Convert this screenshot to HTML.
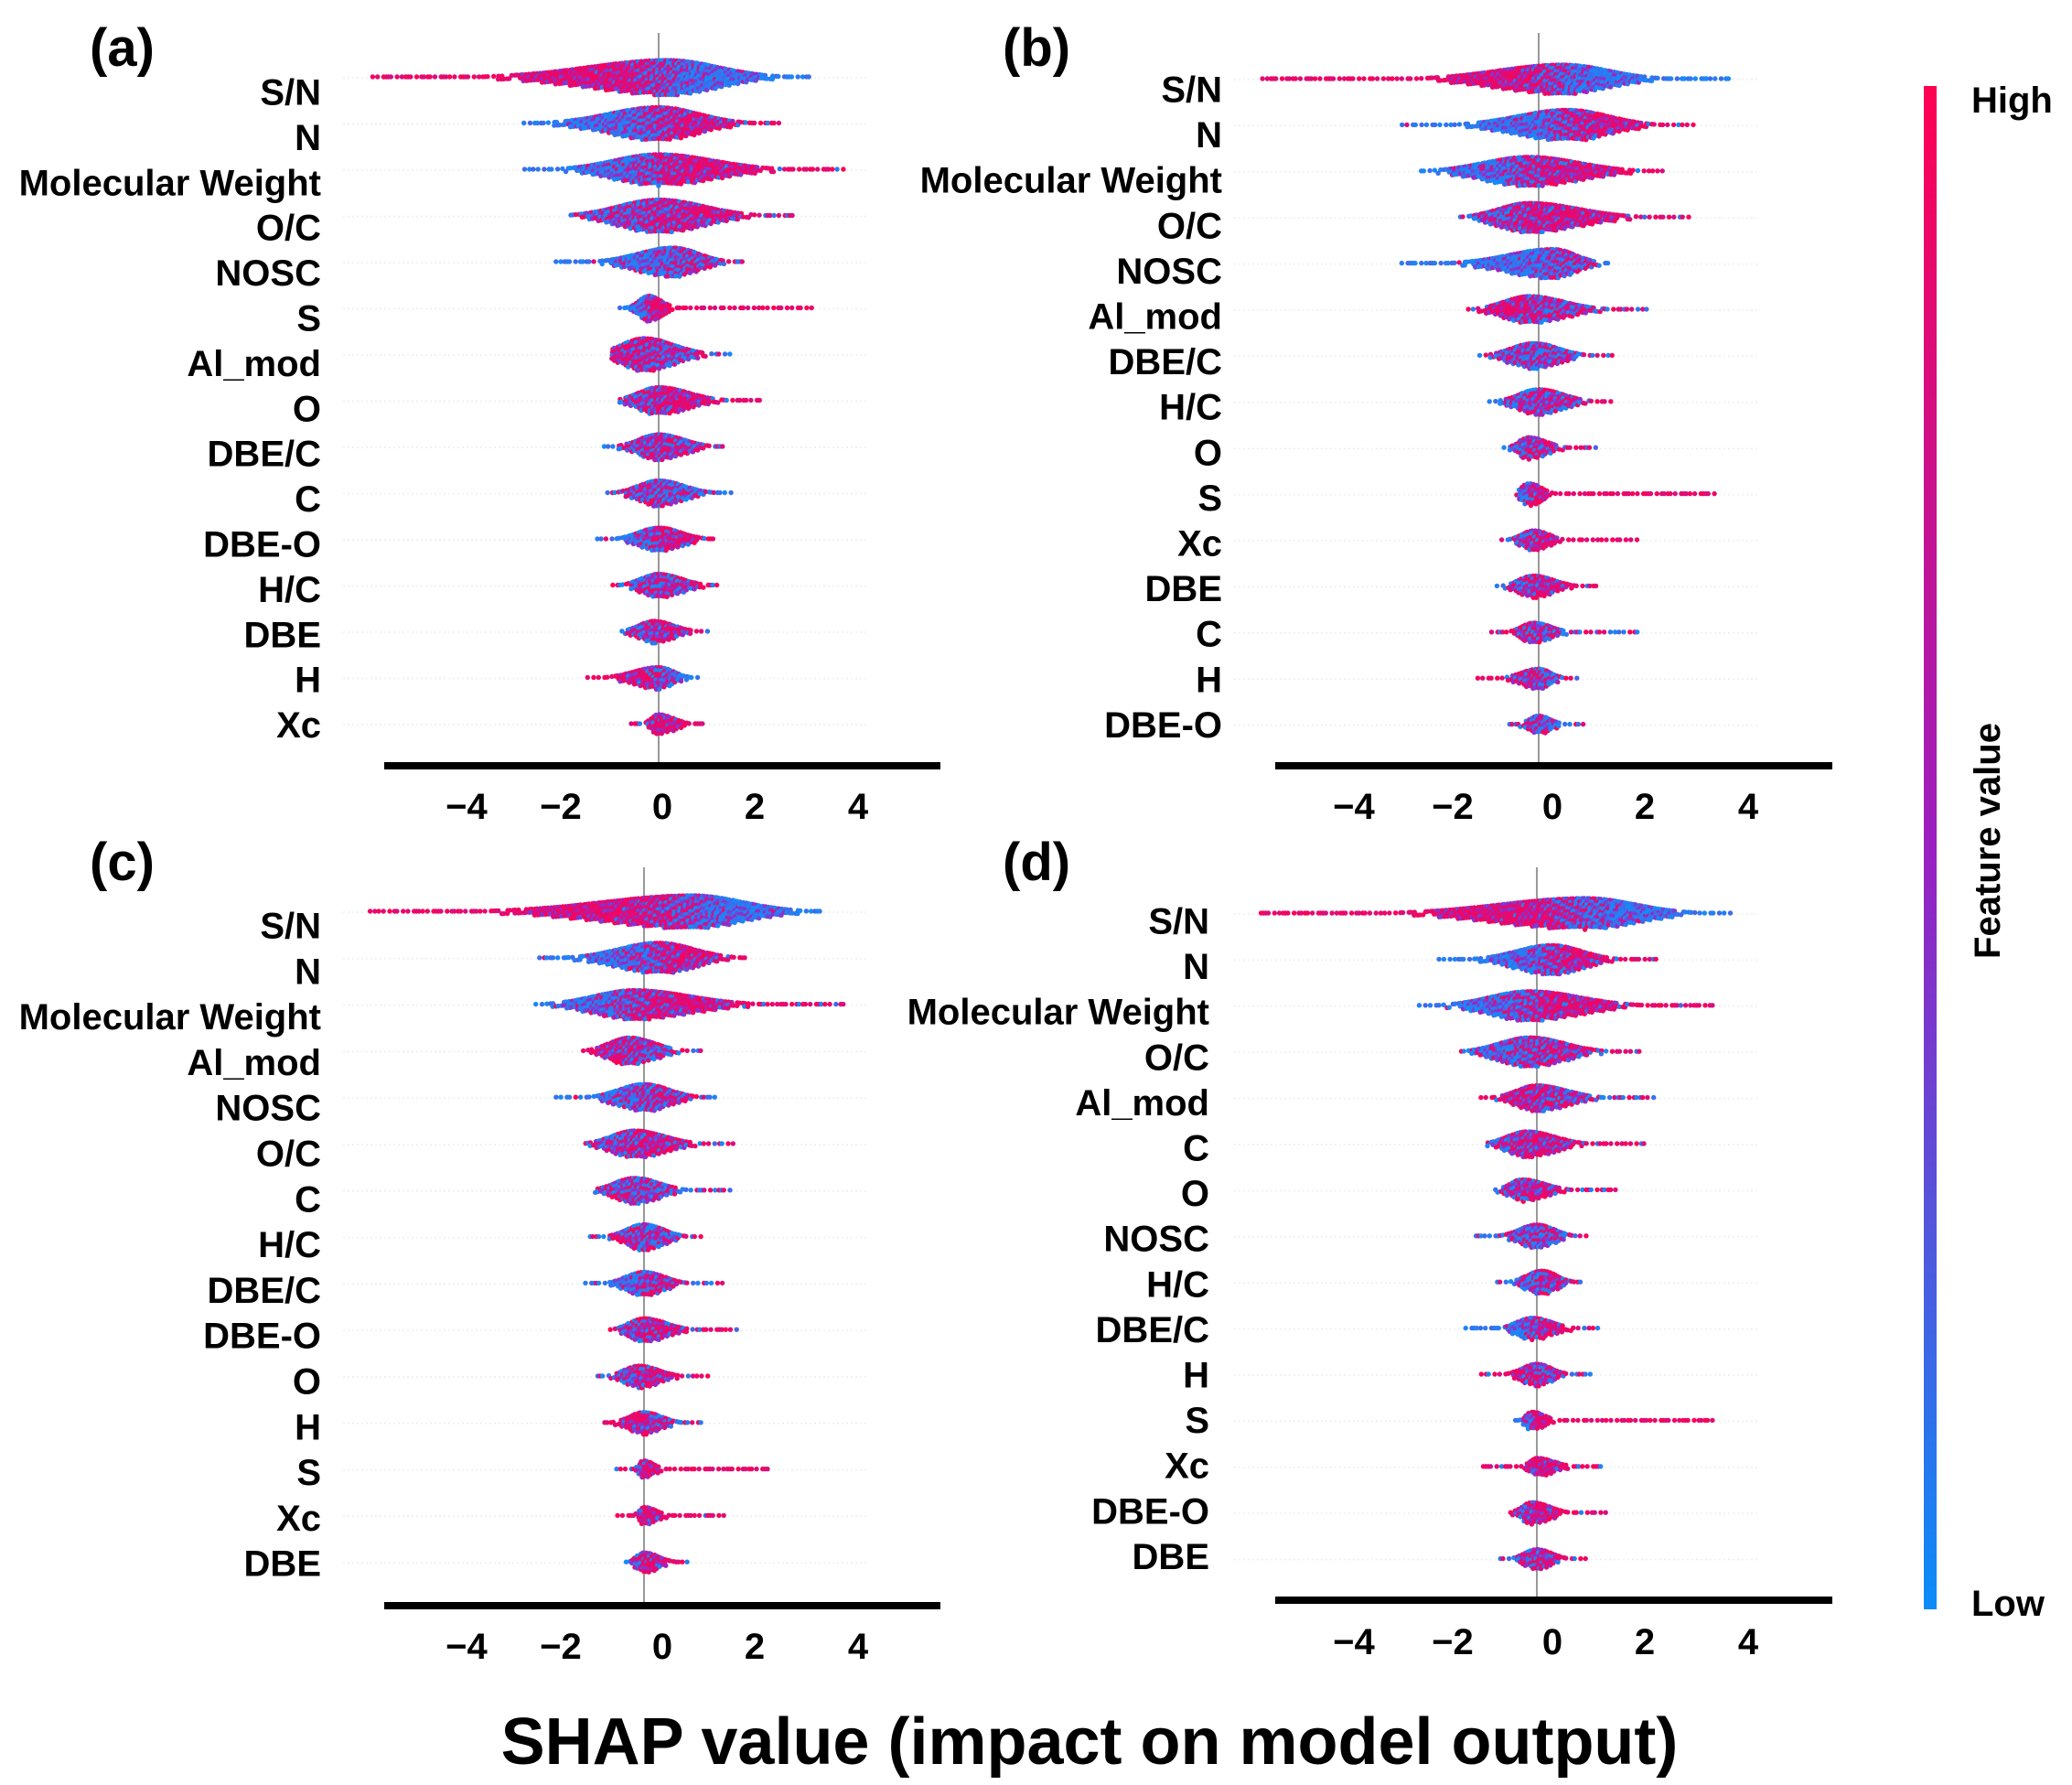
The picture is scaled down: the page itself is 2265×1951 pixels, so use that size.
<!DOCTYPE html>
<html><head><meta charset="utf-8">
<style>
html,body{margin:0;padding:0;background:#fff;}
svg{display:block;font-family:"Liberation Sans",Arial,sans-serif;font-weight:bold;}
</style></head>
<body>
<svg id="fig" width="2265" height="1951" viewBox="0 0 2265 1951" xmlns="http://www.w3.org/2000/svg">
<defs>
<linearGradient id="cbar" x1="0" y1="0" x2="0" y2="1">
<stop offset="0" stop-color="#ff0052"/>
<stop offset="0.5" stop-color="#9a1fc0"/>
<stop offset="1" stop-color="#0a8cf8"/>
</linearGradient>
</defs>
<g id="panels"></g>
<rect x="2103" y="94" width="14" height="1665" fill="url(#cbar)"/>
<text x="2155" y="123" font-size="40">High</text>
<text x="2155" y="1766" font-size="40">Low</text>
<text transform="translate(2186,919) rotate(-90)" text-anchor="middle" font-size="40">Feature value</text>
<text x="1191" y="1928" text-anchor="middle" font-size="72">SHAP value (impact on model output)</text>
</svg>
<script>
// ---- data: per feature [lo, hi, peak, thick, spreadL, spreadR, colorLeft, colorRight]
const featuresA = ["S/N","N","Molecular Weight","O/C","NOSC","S","Al_mod","O","DBE/C","C","DBE-O","H/C","DBE","H","Xc"];
const featuresB = ["S/N","N","Molecular Weight","O/C","NOSC","Al_mod","DBE/C","H/C","O","S","Xc","DBE","C","H","DBE-O"];
const featuresC = ["S/N","N","Molecular Weight","Al_mod","NOSC","O/C","C","H/C","DBE/C","DBE-O","O","H","S","Xc","DBE"];
const featuresD = ["S/N","N","Molecular Weight","O/C","Al_mod","C","O","NOSC","H/C","DBE/C","H","S","Xc","DBE-O","DBE"];
const distA = [
[-5.85,3.1,0.2,19,1.6,1.0,1,0],[-2.75,2.5,0,18,1.0,0.8,0.05,0.85],[-2.8,3.8,0,17,0.9,1.1,0.02,0.95],
[-1.8,2.8,0,18,0.8,0.9,0.4,0.8],[-2.1,1.8,0.3,16,0.7,0.5,0.1,0.5],[-0.8,3.2,-0.2,14,0.2,0.25,0,1],
[-0.95,1.5,-0.3,18,0.45,0.6,0.9,0.5],[-0.85,2.1,0,15,0.4,0.6,0.4,0.9],[-1.1,1.4,0,14,0.4,0.5,0.5,0.6],
[-1.05,1.5,0,14,0.4,0.5,0.6,0.3],[-1.3,1.2,0,13,0.4,0.45,0.1,0.9],[-0.95,1.2,0,13,0.35,0.45,0.4,0.6],
[-0.8,1.05,-0.1,12,0.3,0.4,0.4,0.8],[-1.45,0.9,0,12,0.5,0.3,0.95,0.2],[-0.55,0.95,0,11,0.15,0.3,0.85,0.9]];
const distB = [
[-5.7,3.9,0.5,16,1.3,0.9,1,0],[-2.85,3.2,0.6,17,1.0,0.8,0.02,0.9],[-2.45,2.6,-0.2,16,0.9,1.0,0.05,0.9],
[-1.6,3.1,-0.2,16,0.6,1.0,0.45,0.9],[-2.85,1.5,0.3,16,0.9,0.45,0.02,0.5],[-1.45,2.3,-0.2,15,0.5,0.7,0.9,0.55],
[-1.2,1.6,-0.1,14,0.45,0.5,0.4,0.4],[-1.0,1.55,0,14,0.4,0.5,0.4,0.6],[-0.7,1.2,-0.2,12,0.2,0.35,0.35,0.7],
[-0.45,3.6,-0.2,12,0.15,0.25,0,1],[-0.8,2.05,-0.1,11,0.25,0.3,0.3,0.95],[-0.85,1.25,-0.1,12,0.3,0.4,0.4,0.85],
[-0.95,2.1,-0.1,11,0.25,0.35,0.8,0.5],[-1.25,0.8,0,11,0.35,0.25,0.8,0.3],[-0.65,1.0,0,10,0.2,0.25,0.6,0.3]];
const distC = [
[-5.6,3.6,1.0,18,1.8,1.0,1,0],[-2.2,2.1,0.3,17,0.8,0.7,0.05,0.85],[-2.2,4.1,-0.2,16,0.8,1.1,0.05,0.9],
[-1.3,1.25,-0.3,15,0.4,0.5,0.85,0.5],[-1.8,1.55,0,15,0.5,0.5,0.1,0.6],[-1.2,1.85,-0.2,15,0.45,0.6,0.4,0.8],
[-1.0,1.8,-0.2,14,0.4,0.5,0.5,0.4],[-1.15,1.15,0,14,0.35,0.4,0.6,0.4],[-1.25,1.65,0,13,0.35,0.4,0.05,0.6],
[-0.7,1.9,0,13,0.3,0.45,0.4,0.8],[-0.95,1.4,-0.1,12,0.3,0.4,0.35,0.9],[-0.8,1.2,0,12,0.3,0.35,0.9,0.6],
[-0.55,2.55,0,10,0.1,0.2,0.5,1],[-0.55,1.65,0,10,0.1,0.25,0.8,0.95],[-0.35,0.9,0,11,0.15,0.3,0.5,0.85]];
const distD = [
[-5.7,4.0,1.0,17,1.7,1.0,1,0],[-2.0,2.45,0.3,16,0.7,0.6,0.02,0.9],[-2.4,3.65,-0.15,16,0.8,1.0,0.02,0.9],
[-1.55,2.2,-0.15,16,0.6,0.7,0.2,0.7],[-1.15,2.4,0,14,0.4,0.6,0.9,0.5],[-1.0,2.3,-0.2,14,0.4,0.55,0.5,0.8],
[-0.85,1.65,-0.3,12,0.25,0.45,0.4,0.75],[-1.3,1.1,0,13,0.35,0.35,0.4,0.4],[-0.8,0.9,0.1,13,0.3,0.3,0.3,0.7],
[-1.5,1.3,-0.1,12,0.3,0.4,0.05,0.8],[-1.2,1.15,0,12,0.3,0.3,0.9,0.5],[-0.5,3.7,-0.1,10,0.12,0.25,0,1],
[-1.1,1.35,0,10,0.15,0.35,0.85,0.9],[-0.6,1.45,-0.1,12,0.2,0.35,0.5,0.9],[-0.8,1.0,0,11,0.25,0.3,0.5,0.8]];
const tickLabels = ["\u22124","\u22122","0","2","4"];

const panels = [
 {id:"a",feat:featuresA,dist:distA,zero:720,row0:85,dy:50.5,lab0:100,ldy:49.4,right:351,top:36,axisY:837,ax1:420,ax2:1028,ticks:[510,613,724,825,938],tickY:895,lx:98,ly:72},
 {id:"b",feat:featuresB,dist:distB,zero:1682,row0:87,dy:50.4,lab0:97,ldy:49.6,right:1336,top:36,axisY:837,ax1:1394,ax2:2003,ticks:[1480,1588,1697,1798,1911],tickY:895,lx:1096,ly:72},
 {id:"c",feat:featuresC,dist:distC,zero:704,row0:997,dy:50.8,lab0:1011,ldy:49.8,right:351,top:948,axisY:1755,ax1:420,ax2:1028,ticks:[510,613,724,825,938],tickY:1813,lx:98,ly:962},
 {id:"d",feat:featuresD,dist:distD,zero:1680,row0:999,dy:50.4,lab0:1006,ldy:49.6,right:1322,top:948,axisY:1749,ax1:1394,ax2:2003,ticks:[1480,1588,1697,1798,1911],tickY:1808,lx:1096,ly:962}
];
const NS="http://www.w3.org/2000/svg";
const UNIT=53.5;
function cmap(v){
  v=Math.max(0,Math.min(1,v));
  const a=[20,140,250],m=[150,40,200],b=[255,0,82];
  let c;
  if(v<0.5){const t=v/0.5;c=a.map((x,i)=>x+(m[i]-x)*t);}else{const t=(v-0.5)/0.5;c=m.map((x,i)=>x+(b[i]-x)*t);}
  return "rgb("+c.map(Math.round).join(",")+")";
}
function mk(tag,attrs){const e=document.createElementNS(NS,tag);for(const k in attrs)e.setAttribute(k,attrs[k]);return e;}
const root=document.getElementById("panels");
let k=0;
panels.forEach(p=>{
  const g=mk("g",{});
  
  
  root.appendChild(g);
  const xs=v=>p.zero+v*UNIT;
  const L=mk("text",{x:p.lx,y:p.ly,"font-size":"58"});
  
  
  L.textContent="("+p.id+")";g.appendChild(L);
  p.feat.forEach((f,i)=>{
    const ry=p.row0+i*p.dy;
    const gl=mk("line",{x1:p.ax1-45,x2:p.ax2-80,y1:ry,y2:ry,stroke:"#eeeeee","stroke-width":"1.5","stroke-dasharray":"2,3"});
    
    
    g.appendChild(gl);
    const t=mk("text",{x:p.right,y:p.lab0+i*p.ldy+14.5,"text-anchor":"end","font-size":"40"});
    
    
    t.textContent=f;g.appendChild(t);
  });
  const z=mk("line",{x1:p.zero,x2:p.zero,y1:p.top,y2:p.axisY-4,stroke:"#999","stroke-width":"2"});
  
  
  g.appendChild(z);
  p.dist.forEach((d,i)=>{
    const [lo,hi,pk,th,sl,sr,cl,cr]=d;
    const ry=p.row0+i*p.dy;
    const rg=mk("g",{});
    
    
    g.appendChild(rg);
    const x0=xs(lo),x1=xs(hi);
    const w=0.3*(sl+sr)/2;
    for(let x=x0;x<=x1;x+=3){
      const v=(x-p.zero)/UNIT;
      const s=v<pk?sl:sr;
      const h=Math.max(1,th*Math.exp(-0.5*Math.pow((v-pk)/s,2)));
      const sg=1/(1+Math.exp(-(v-pk+0.15*(sl+sr)/2)/w));
      const base=cl+(cr-cl)*sg;
      const tail=h<3;
      for(let y=-h;y<=h+0.01;y+=3.4){
        k++;
        const h1=(k*0.6180339887)%1, h2=(k*0.7548776662)%1, h3=(k*0.5698402910)%1;
        if(tail && h3<0.35) continue;
        let cv;
        if(h3<0.3) cv=0.35+0.3*h2;
        else cv = h1<base ? 0.8+0.2*h2 : 0.2*h2;
        const c=mk("circle",{cx:(x+(h2-0.5)*1.5).toFixed(1),cy:(ry+y).toFixed(1),r:"2.7",fill:cmap(cv)});
        
        
        rg.appendChild(c);
      }
    }
  });
  const ax=mk("line",{x1:p.ax1,x2:p.ax2,y1:p.axisY,y2:p.axisY,stroke:"#000","stroke-width":"8"});
  
  
  g.appendChild(ax);
  tickLabels.forEach((lab,i)=>{
    const t=mk("text",{x:p.ticks[i],y:p.tickY,"text-anchor":"middle","font-size":"40"});
    
    
    t.textContent=lab;g.appendChild(t);
  });
});
</script>
</body></html>
